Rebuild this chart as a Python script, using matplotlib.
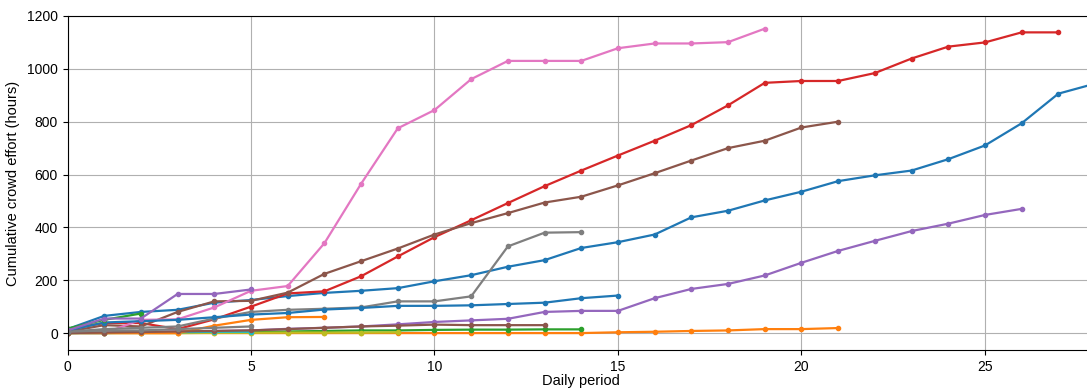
import matplotlib
matplotlib.use("Agg")
import matplotlib.pyplot as plt

plt.rcParams["font.family"] = ["Liberation Sans", "DejaVu Sans"]

# cumulative crowd effort (hours) per project, one value per daily period
blue_a = [15, 65, 80, 88, 115, 125, 140, 152, 160, 170, 196, 219, 251, 276, 322,
          344, 373, 438, 463, 502, 535, 575, 597, 615, 658, 710, 794, 906, 944]
orange_a = [0, 0, 0, 0, 0, 0, 0, 0, 0, 0, 0, 0, 0, 0, 0, 3, 5, 8, 10, 15, 15, 19]
green_a = [0, 2, 3, 4, 5, 5, 6, 8, 10, 10, 12, 13, 13, 14, 14]
red_a = [14, 38, 38, 15, 52, 100, 150, 158, 215, 290, 363, 427, 492, 556, 615,
         672, 728, 787, 862, 947, 954, 954, 984, 1039, 1084, 1100, 1138, 1138]
purple_a = [0, 2, 4, 6, 8, 10, 16, 20, 25, 33, 42, 48, 54, 80, 84, 84, 132, 167,
            186, 218, 266, 311, 349, 386, 414, 447, 470]
brown_a = [5, 30, 25, 80, 120, 122, 153, 224, 272, 320, 373, 416, 454, 494, 516,
           559, 605, 653, 700, 728, 778, 800]
pink_a = [0, 0, 50, 52, 97, 160, 178, 340, 565, 775, 844, 961, 1030, 1030, 1030,
          1078, 1096, 1096, 1101, 1152]
grey_a = [5, 15, 20, 25, 55, 80, 88, 92, 97, 120, 120, 139, 328, 380, 382]
olive_a = [0, 0, 0, 0, 1, 1, 2, 2, 2, 3]
cyan_a = [0, 0, 2, 3, 5, 5]
blue_b = [10, 40, 45, 50, 60, 70, 76, 89, 95, 103, 103, 105, 110, 115, 132, 142]
orange_b = [0, 0, 0, 0, 28, 50, 60, 61]
green_b = [17, 50, 74]
purple_b = [10, 55, 55, 148, 148, 165]
brown_b = [0, 2, 4, 6, 8, 10, 15, 20, 25, 28, 32, 30, 30, 30]
grey_b = [5, 10, 10, 15, 20, 25]

series = [blue_a, orange_a, green_a, red_a, purple_a, brown_a, pink_a, grey_a,
          olive_a, cyan_a, blue_b, orange_b, green_b, purple_b, brown_b, grey_b]
colors = ["tab:blue", "tab:orange", "tab:green", "tab:red", "tab:purple",
          "tab:brown", "tab:pink", "tab:gray", "tab:olive", "tab:cyan",
          "tab:blue", "tab:orange", "tab:green", "tab:purple", "tab:brown",
          "tab:gray"]

fig = plt.figure(figsize=(10.87, 3.89), dpi=100)
ax = fig.add_axes([0.0621, 0.1003, 1.0074 - 0.0621, 0.9589 - 0.1003])
for values, color in zip(series, colors):
    ax.plot(range(len(values)), values, marker=".", markersize=6,
            linewidth=1.6, color=color)

ax.set_xlim(0, 28)
ax.set_ylim(-64, 1200)
ax.grid(True)
ax.tick_params(labelsize=10)
ax.set_xlabel("Daily period", fontsize=10.5, labelpad=0)
ax.set_ylabel("Cumulative crowd effort (hours)", fontsize=10.5, labelpad=5)

fig.savefig("out.png", dpi=100)
